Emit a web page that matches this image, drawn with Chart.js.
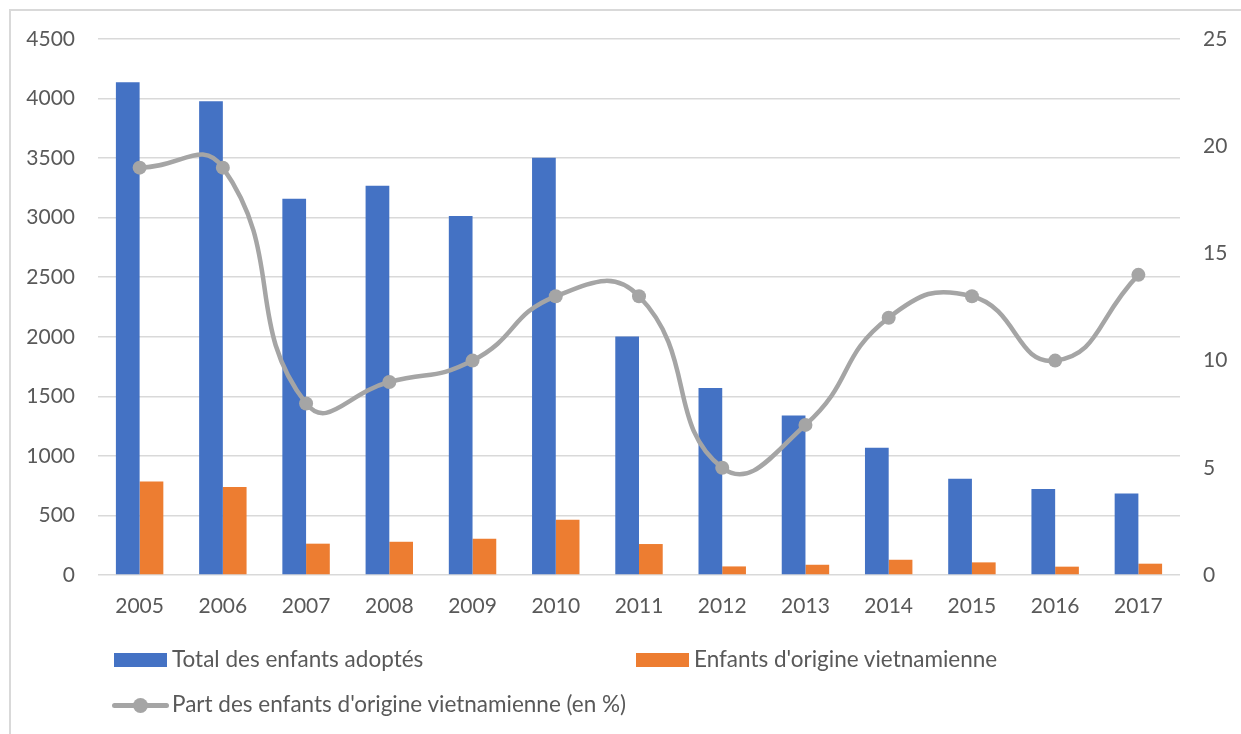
<!DOCTYPE html>
<html>
<head>
<meta charset="utf-8">
<script src="https://cdn.jsdelivr.net/npm/chart.js@4/dist/chart.umd.min.js"></script>
<style>
  body { margin: 0; background: #fff; }
  #wrap { position: relative; width: 1241px; height: 734px; overflow: hidden; font-family: Lato, sans-serif; color: #595959; }
  #chart { position: absolute; left: 0; top: 0; }
  .frame-l { position: absolute; left: 9px; top: 9px; width: 2px; height: 725px; background: #d9d9d9; }
  .frame-t { position: absolute; left: 9px; top: 9px; width: 1232px; height: 2px; background: #d9d9d9; }
  .leg { position: absolute; font-size: 22.5px; line-height: 26px; white-space: nowrap; }
  .box { position: absolute; width: 53px; height: 14px; }
  .lin { position: absolute; width: 57px; height: 5px; border-radius: 3px; background: #a5a5a5; }
  .dot { position: absolute; width: 15px; height: 15px; border-radius: 8px; background: #a5a5a5; }
</style>
</head>
<body>
<div id="wrap">
  <canvas id="chart" width="1241" height="734"></canvas>
  <div class="frame-l"></div>
  <div class="frame-t"></div>
  <div id="legend"></div>
</div>
<script>
'use strict';

var years = ['2005', '2006', '2007', '2008', '2009', '2010', '2011', '2012', '2013', '2014', '2015', '2016', '2017'];
var totalAdoptes = [4136, 3977, 3159, 3268, 3014, 3504, 2003, 1569, 1340, 1068, 808, 721, 684];
var origineVietnam = [785, 738, 263, 279, 304, 464, 260, 72, 86, 128, 106, 70, 95];
var partVietnam = [19, 19, 8, 9, 10, 13, 13, 5, 7, 12, 13, 10, 14];

var labels = {
  total: 'Total des enfants adoptés',
  vietnam: "Enfants d'origine vietnamienne",
  part: "Part des enfants d'origine vietnamienne (en %)"
};

var blue = '#4472c4', orange = '#ed7d31', grey = '#a5a5a5';
var textColor = '#595959', gridColor = '#d9d9d9';
var font = { family: 'Lato, sans-serif', size: 21 };

// plot area in page pixels
var area = { left: 98, right: 1180, top: 39, bottom: 575 };

// plain numbers, no thousands separator
var plain = function(v) { return String(v); };

var chart = new Chart(document.getElementById('chart'), {
  type: 'bar',
  data: {
    labels: years,
    datasets: [
      {
        type: 'line',
        label: labels.part,
        data: partVietnam,
        yAxisID: 'y1',
        borderColor: grey,
        backgroundColor: grey,
        borderWidth: 4.5,
        pointRadius: 7,
        pointBackgroundColor: grey,
        pointBorderWidth: 0,
        tension: 0.5,
        borderCapStyle: 'round'
      },
      {
        label: labels.total,
        data: totalAdoptes,
        yAxisID: 'y',
        backgroundColor: blue,
        categoryPercentage: 0.57,
        barPercentage: 1
      },
      {
        label: labels.vietnam,
        data: origineVietnam,
        yAxisID: 'y',
        backgroundColor: orange,
        categoryPercentage: 0.57,
        barPercentage: 1
      }
    ]
  },
  options: {
    responsive: false,
    animation: false,
    layout: { padding: { left: 0, right: 0, top: area.top, bottom: 0 } },
    plugins: {
      legend: { display: false },
      tooltip: { enabled: false }
    },
    scales: {
      x: {
        grid: { display: false, drawTicks: false },
        border: { display: false },
        ticks: { color: textColor, font: font, padding: 19, maxRotation: 0 },
        afterFit: function(scale) { scale.height = 734 - area.bottom; }
      },
      y: {
        position: 'left',
        min: 0,
        max: 4500,
        ticks: { stepSize: 500, color: textColor, font: font, padding: 23, callback: plain },
        grid: { color: gridColor, lineWidth: 1.5, drawTicks: false },
        border: { display: false },
        afterFit: function(scale) { scale.width = area.left; }
      },
      y1: {
        position: 'right',
        min: 0,
        max: 25,
        ticks: { stepSize: 5, color: textColor, font: font, padding: 23, callback: plain },
        grid: { display: false, drawTicks: false },
        border: { display: false },
        afterFit: function(scale) { scale.width = 1241 - area.right; }
      }
    }
  }
});

// legend laid out like the original: two columns, line series on its own row
var legend = document.getElementById('legend');
var items = [
  { kind: 'box', color: blue, text: labels.total, x: 114, y: 660, tx: 172 },
  { kind: 'box', color: orange, text: labels.vietnam, x: 636, y: 660, tx: 694 },
  { kind: 'line', color: grey, text: labels.part, x: 112, y: 705, tx: 172 }
];
items.forEach(function(it) {
  if (it.kind === 'box') {
    var b = document.createElement('div');
    b.className = 'box';
    b.style.left = it.x + 'px';
    b.style.top = (it.y - 7) + 'px';
    b.style.background = it.color;
    legend.appendChild(b);
  } else {
    var l = document.createElement('div');
    l.className = 'lin';
    l.style.left = it.x + 'px';
    l.style.top = (it.y - 2) + 'px';
    legend.appendChild(l);
    var d = document.createElement('div');
    d.className = 'dot';
    d.style.left = (it.x + 21) + 'px';
    d.style.top = (it.y - 7) + 'px';
    legend.appendChild(d);
  }
  var t = document.createElement('div');
  t.className = 'leg';
  t.textContent = it.text;
  t.style.left = it.tx + 'px';
  t.style.top = (it.y - 14) + 'px';
  legend.appendChild(t);
});
</script>
</body>
</html>
